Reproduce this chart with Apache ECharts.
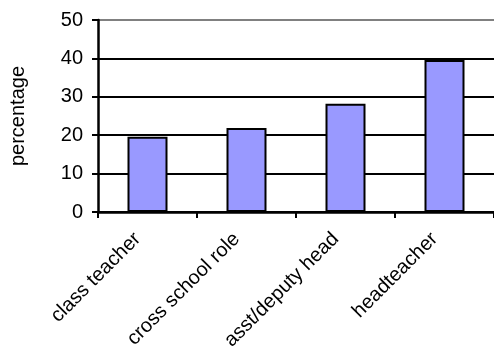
<!DOCTYPE html>
<html>
<head>
<meta charset="utf-8">
<script src="https://cdn.jsdelivr.net/npm/echarts@6/dist/echarts.min.js"></script>
<style>html,body{margin:0;padding:0;background:#fff;}#c{width:494px;height:356px;}</style>
</head>
<body>
<div id="c"></div>
<script>
var categories = ['class teacher', 'cross school role', 'asst/deputy head', 'headteacher'];
var values = [19.6, 21.9, 28.2, 39.6];
var yTicks = [0, 10, 20, 30, 40, 50];
var yName = 'percentage';

var chart = echarts.init(document.getElementById('c'), null, {renderer: 'canvas'});
var font = 'Liberation Sans, Arial, sans-serif';
chart.setOption({
  animation: false,
  backgroundColor: '#fff',
  grid: {left: 98, top: 20, bottom: 144, right: -3, containLabel: false},
  xAxis: {
    type: 'category',
    data: categories,
    axisLine: {lineStyle: {color: '#000', width: 2.5}},
    axisTick: {show: true, alignWithLabel: false, interval: 0, length: 6, lineStyle: {color: '#000', width: 2}},
    axisLabel: {rotate: 45, interval: 0, margin: 14, padding: [0, 14, 0, 0], color: '#000', fontFamily: font, fontSize: 20},
    splitLine: {show: false}
  },
  yAxis: {
    type: 'value',
    min: yTicks[0],
    max: yTicks[yTicks.length - 1],
    interval: 10,
    name: yName,
    nameLocation: 'middle',
    nameRotate: 90,
    nameGap: 70,
    nameTextStyle: {color: '#000', fontFamily: font, fontSize: 20},
    axisLine: {show: true, lineStyle: {color: '#000', width: 2.5}},
    axisTick: {show: true, length: 6, lineStyle: {color: '#000', width: 2}},
    axisLabel: {margin: 15, color: '#000', fontFamily: font, fontSize: 20},
    splitLine: {show: true, lineStyle: {color: ['#000', '#000', '#000', '#000', '#000', '#808080'], width: 2}}
  },
  series: [{
    type: 'bar',
    data: values,
    barWidth: 40,
    itemStyle: {color: '#9999FF', borderColor: '#000', borderWidth: 2}
  }]
});
</script>
</body>
</html>
